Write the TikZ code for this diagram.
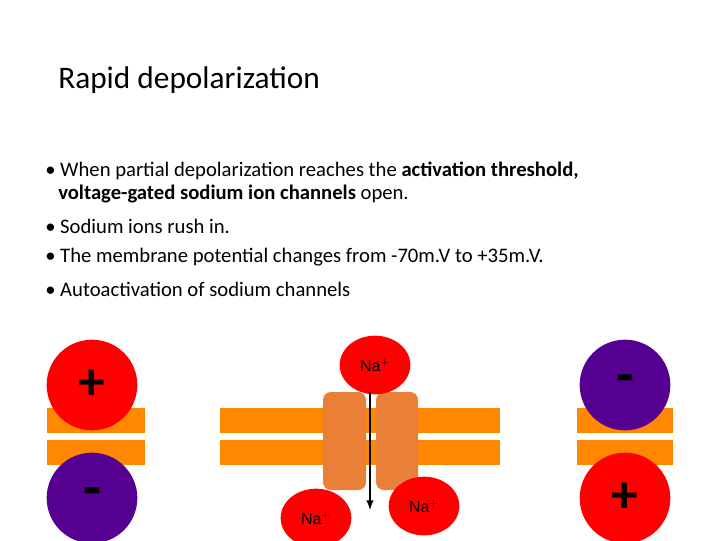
\documentclass[tikz,border=0pt]{standalone}
\usepackage{fontspec}
\setmainfont{Carlito}
\newfontfamily\arial{Liberation Sans}
\usetikzlibrary{shapes.geometric}
\begin{document}
\begin{tikzpicture}[x=0.75pt,y=-0.75pt,
  poscharge/.style={circle, fill=red, minimum size=68pt, inner sep=0pt, font=\fontsize{40}{40}\selectfont\bfseries},
  negcharge/.style={circle, fill=purp, minimum size=68pt, inner sep=0pt, font=\fontsize{44}{44}\selectfont\bfseries},
  na/.style={ellipse, fill=red, minimum width=53pt, minimum height=44pt, inner sep=0pt, font=\arial\fontsize{12}{12}\selectfont},
  bul/.style={anchor=west, font=\fontsize{15.5}{18}\selectfont, inner sep=0pt}]
\definecolor{memb}{RGB}{255,136,0}
\definecolor{prot}{RGB}{234,128,56}
\definecolor{purp}{RGB}{85,0,145}
\useasboundingbox (0,0) rectangle (720,540);
% title
\node[anchor=west, font=\fontsize{23.5}{28}\selectfont, inner sep=0pt] (title) at (58,80) {Rapid depolarization};
% bullets
\node[bul] (b1a) at (45,171) {\textbullet\ When partial depolarization reaches the \textbf{activation threshold,}};
\node[bul] (b1b) at (58,194) {\textbf{voltage-gated sodium ion channels} open.};
\node[bul] (b2) at (45,226) {\textbullet\ Sodium ions rush in.};
\node[bul] (b3) at (45,257) {\textbullet\ The membrane potential changes from -70m.V to +35m.V.};
\node[bul] (b4) at (45,289) {\textbullet\ Autoactivation of sodium channels};
% membranes
\fill[memb] (47,408) rectangle (145,433);
\fill[memb] (47,440) rectangle (145,465);
\fill[memb] (577,408) rectangle (673,433);
\fill[memb] (577,440) rectangle (673,465);
\fill[memb] (220,408) rectangle (500,433);
\fill[memb] (220,440) rectangle (500,465);
\fill[prot, rounded corners=6pt] (323,392) rectangle (366,490);
\fill[prot, rounded corners=6pt] (376,392) rectangle (418,490);
% charges
\node[poscharge] (lp) at (92,385) {+};
\node[negcharge] (ln) at (92,498) {\raisebox{-7pt}{-}};
\node[negcharge] (rn) at (625,385) {\raisebox{-7pt}{-}};
\node[poscharge] (rp) at (625,498) {+};
% sodium
\node[na] (nat) at (375,365) {Na$^+$};
\node[na] (nal) at (316,518) {Na$^+$};
\node[na] (nar) at (424,506) {Na$^+$};
\coordinate (as) at (370,392);
\coordinate (ae) at (370,510);
\draw[line width=1.5pt, -latex] (as) -- (ae);
\end{tikzpicture}
\end{document}
